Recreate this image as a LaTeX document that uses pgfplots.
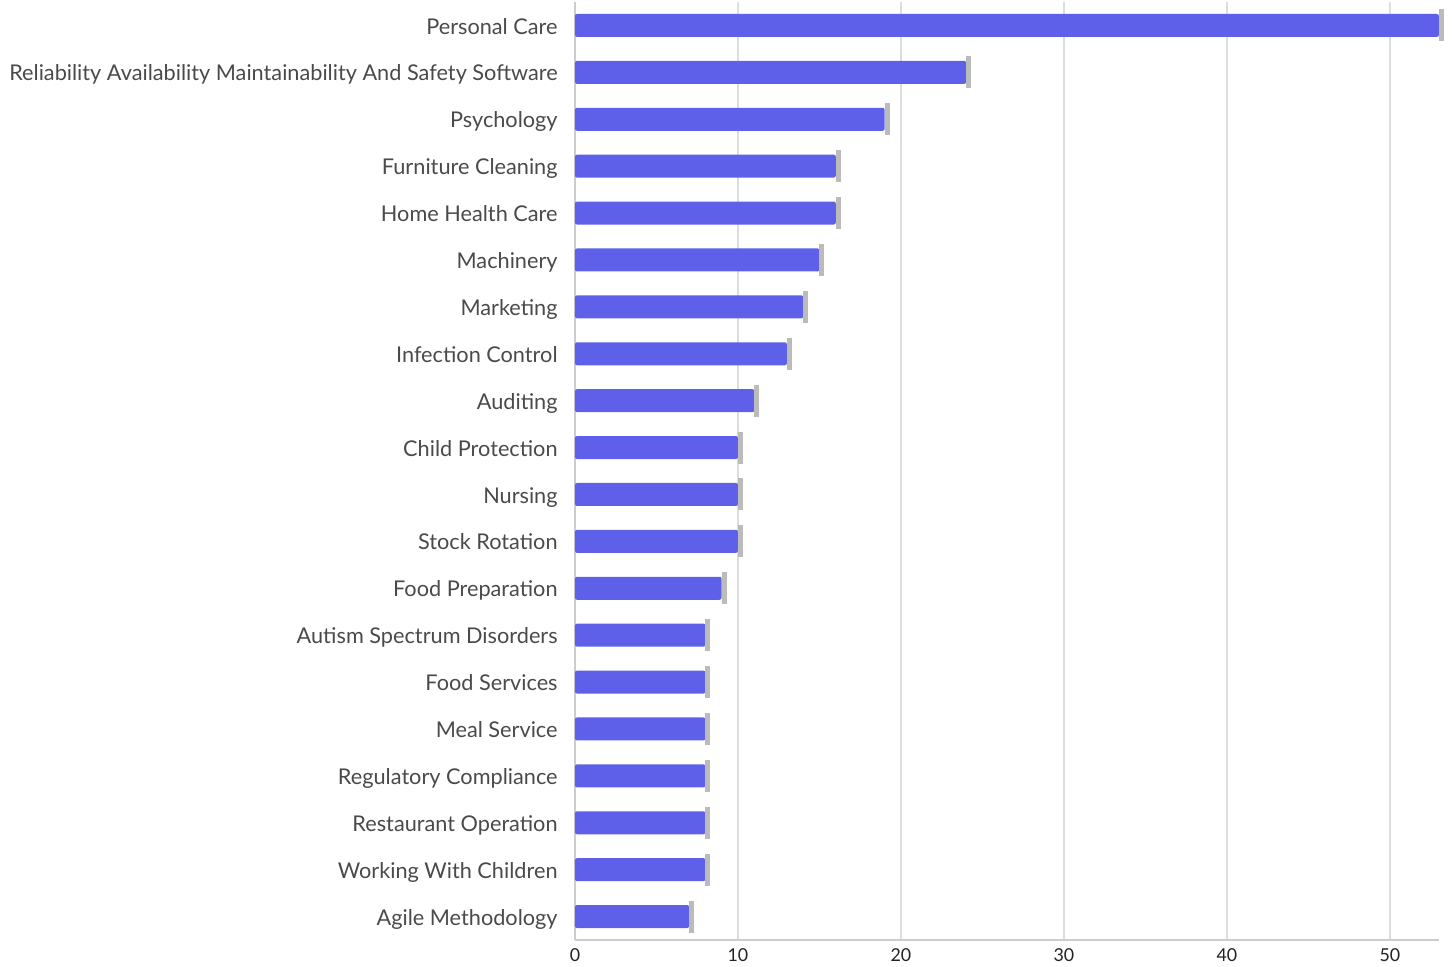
\documentclass[border=0pt]{standalone}
\usepackage{fontspec}
\setmainfont{Lato}
\usepackage{pgfplots}
\usepackage{pgfplotstable}
\pgfplotsset{compat=1.18}

\definecolor{barblue}{HTML}{5E60E9}
\definecolor{capgray}{HTML}{BBBBBB}
\definecolor{gridgray}{HTML}{DDDDDD}
\definecolor{axisgray}{HTML}{CCCCCC}
\definecolor{labelgray}{HTML}{4A4A4A}
\definecolor{ticktext}{HTML}{222222}

% idx 0 = bottom row
\pgfplotstableread{
idx v
0 7
1 8
2 8
3 8
4 8
5 8
6 8
7 9
8 10
9 10
10 10
11 11
12 13
13 14
14 15
15 16
16 16
17 19
18 24
19 53
}\skills

\begin{document}
\begin{tikzpicture}
\begin{axis}[
    at={(0,0)}, anchor=south west,
    scale only axis,
    width=431.95pt, height=469pt,
    xmin=0, xmax=53,
    ymin=-0.5, ymax=19.5,
    clip=false,
    axis x line*=bottom,
    axis y line*=left,
    axis line style={axisgray, line width=1pt, -},
    xmajorgrids,
    major grid style={gridgray, line width=1pt},
    xtick={0,10,20,30,40,50},
    ytick={0,...,19},
    yticklabels={Agile Methodology, Working With Children, Restaurant Operation,
      Regulatory Compliance, Meal Service, Food Services, Autism Spectrum Disorders,
      Food Preparation, Stock Rotation, Nursing, Child Protection, Auditing,
      Infection Control, Marketing, Machinery, Home Health Care, Furniture Cleaning,
      Psychology, Reliability Availability Maintainability And Safety Software,
      Personal Care},
    major tick length=0pt,
    tick style={draw=none},
    /pgf/number format/assume math mode=true,
    yticklabel style={font=\fontsize{10.85}{13}\selectfont, text=labelgray,
      anchor=east, inner sep=0pt, xshift=-8.5pt, yshift=-1.5pt,
      text height=7.9pt, text depth=2.3pt},
    xticklabel style={font=\fontsize{8.9}{10}\selectfont, text=ticktext,
      anchor=north, inner sep=0pt, yshift=-4.2pt},
  ]
  \addplot[xbar, bar width=11.5pt, fill=barblue, draw=none,
    rounded corners=1pt] table[x=v, y=idx] {\skills};
  \addplot[only marks, mark=|, mark size=8pt,
    mark options={draw=capgray, line width=2.5pt}]
    table[x expr=\thisrow{v}+0.15, y=idx] {\skills};
\end{axis}
\pgfresetboundingbox
\useasboundingbox (-287.5pt,-13pt) rectangle (438.5pt,470pt);
\end{tikzpicture}
\end{document}
